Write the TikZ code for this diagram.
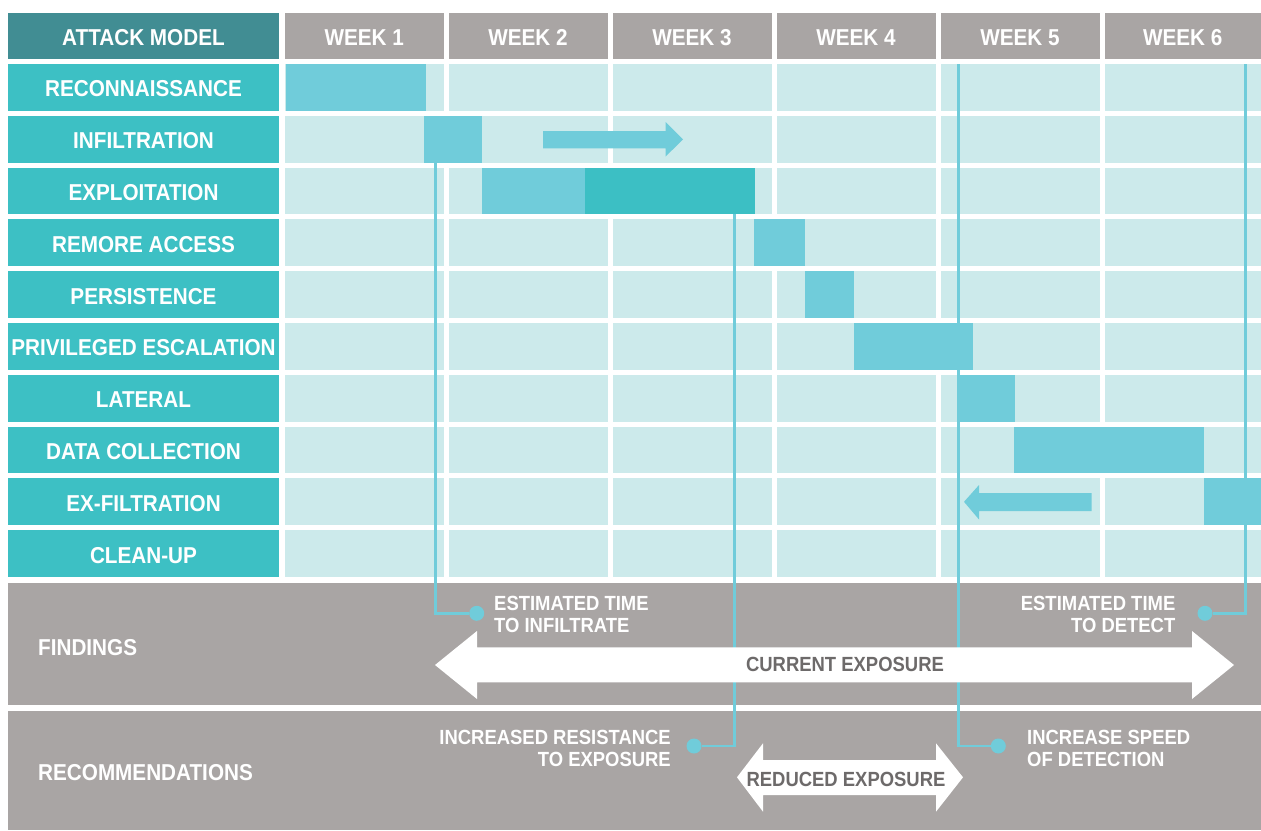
\documentclass[tikz,border=0pt]{standalone}
\usepackage{fontspec}
\setmainfont[FakeStretch=0.9]{Liberation Sans}
\definecolor{headerteal}{HTML}{418D93}
\definecolor{labelteal}{HTML}{3DC0C4}
\definecolor{weekgray}{HTML}{A9A5A4}
\definecolor{cellcol}{HTML}{CCEAEB}
\definecolor{barcol}{HTML}{70CCDA}
\definecolor{bardark}{HTML}{3CBFC4}
\definecolor{panelcol}{HTML}{A9A5A4}
\definecolor{darktext}{HTML}{6D6A6A}
\tikzset{
  box/.style={inner sep=0pt, outer sep=0pt, anchor=north west, minimum height=46.8pt, text=white,
    text height=19pt, text depth=0pt, font=\fontsize{23}{24}\selectfont\bfseries},
  hdrbox/.style={box, fill=headerteal, minimum width=271pt, minimum height=46pt},
  weekbox/.style={box, fill=weekgray, minimum height=46pt},
  lblbox/.style={box, fill=labelteal, minimum width=271pt},
  barbox/.style={box, fill=barcol},
  cell/.style={fill=cellcol},
  conn/.style={draw=barcol, line width=2.6pt},
  dotnode/.style={circle, fill=barcol, minimum size=15pt, inner sep=0pt},
  wtxt/.style={inner sep=0pt, text=white, font=\fontsize{20.5}{21.5}\selectfont\bfseries},
  ptxt/.style={inner sep=0pt, text=white, font=\fontsize{23}{24}\selectfont\bfseries},
  dtxt/.style={inner sep=0pt, text=darktext, font=\fontsize{20.5}{21.5}\selectfont\bfseries},
  bigarrow/.style={fill=white},
  gridarrow/.style={fill=barcol}
}
\begin{document}
\begin{tikzpicture}[x=1pt,y=-1pt]
\useasboundingbox (0,0) rectangle (1261,830);
\fill[white] (0,0) rectangle (1261,830);

% header
\node[hdrbox] (hdr) at (8,13) {ATTACK MODEL};
\foreach \x/\w/\t/\n in {285/158.5/WEEK 1/w1, 448.5/159/WEEK 2/w2, 612.5/159/WEEK 3/w3,
    776.5/159/WEEK 4/w4, 940.5/159/WEEK 5/w5, 1104.5/156.5/WEEK 6/w6}
  \node[weekbox, minimum width=\w pt] (\n) at (\x,13) {\t};

% row labels
\foreach \i/\t/\n in {0/RECONNAISSANCE/l0, 1/INFILTRATION/l1, 2/EXPLOITATION/l2,
    3/REMORE ACCESS/l3, 4/PERSISTENCE/l4, 5/PRIVILEGED ESCALATION/l5, 6/LATERAL/l6,
    7/DATA COLLECTION/l7, 8/EX-FILTRATION/l8, 9/CLEAN-UP/l9}
  \node[lblbox] (\n) at (8,{64+51.8*\i}) {\t};

% grid cells
\foreach \i in {0,...,9}
  \foreach \x/\w in {285/158.5, 448.5/159, 612.5/159, 776.5/159, 940.5/159, 1104.5/156.5}
    \fill[cell] (\x,{64+51.8*\i}) rectangle ++(\w,46.8);

% bottom panels
\fill[panelcol] (8,582.7) rectangle (1261,705);
\fill[panelcol] (8,710.7) rectangle (1261,830);

% connector start points and dots
\coordinate (aTop) at (435.7,162.6);
\coordinate (bTop) at (734.3,214.4);
\coordinate (cTop) at (958.3,64);
\coordinate (dTop) at (1245.5,64);
\node[dotnode] (dA) at (476.7,613.3) {};
\node[dotnode] (dB) at (694,746) {};
\node[dotnode] (dC) at (998.3,746) {};
\node[dotnode] (dD) at (1205,613.3) {};
\draw[conn] (aTop) |- (dA);
\draw[conn] (bTop) |- (dB);
\draw[conn] (cTop) |- (dC);
\draw[conn] (dTop) |- (dD);

% bars
\node[barbox, minimum width=140pt] (recon) at (286,64) {};
\node[barbox, minimum width=58pt] (infil) at (424,115.8) {};
\node[barbox, minimum width=103pt] (exploitA) at (482,167.6) {};
\node[barbox, minimum width=170pt, fill=bardark] (exploitB) at (585,167.6) {};
\node[barbox, minimum width=51pt] (remote) at (754,219.4) {};
\node[barbox, minimum width=49pt] (persist) at (805,271.2) {};
\node[barbox, minimum width=119pt] (priv) at (854,323) {};
\node[barbox, minimum width=58pt] (lateral) at (957,374.8) {};
\node[barbox, minimum width=190pt] (datacoll) at (1014,426.6) {};
\node[barbox, minimum width=57pt] (exfil) at (1204,478.4) {};

% grid arrows
\fill[gridarrow] (543,131) -- (665.5,131) -- (665.5,122) -- (683,139.3) -- (665.5,156.7)
  -- (665.5,148.3) -- (543,148.3) -- cycle;
\fill[gridarrow] (964,501.8) -- (979,485) -- (979,493) -- (1091.5,493) -- (1091.5,511)
  -- (979,511) -- (979,519.5) -- cycle;

% big arrows
\fill[bigarrow] (435,665) -- (477,631) -- (477,647.3) -- (1192,647.3) -- (1192,631)
  -- (1234,665) -- (1192,699) -- (1192,682.3) -- (477,682.3) -- (477,699) -- cycle;
\fill[bigarrow] (737,777.3) -- (763,743.3) -- (763,760) -- (936,760) -- (936,743.3)
  -- (963,777.3) -- (936,811.7) -- (936,795) -- (763,795) -- (763,811.7) -- cycle;

% texts
\node[ptxt, anchor=west] (findings) at (38,648) {FINDINGS};
\node[ptxt, anchor=west] (recs) at (38,773) {RECOMMENDATIONS};
\node[dtxt] (current) at (845,664.3) {CURRENT EXPOSURE};
\node[dtxt] (reduced) at (846,779) {REDUCED EXPOSURE};
\node[wtxt, anchor=west, align=left] (tInf) at (494,614.4) {ESTIMATED TIME\\TO INFILTRATE};
\node[wtxt, anchor=east, align=right] (tDet) at (1175.5,614.4) {ESTIMATED TIME\\TO DETECT};
\node[wtxt, anchor=east, align=right] (tRes) at (671,748.3) {INCREASED RESISTANCE\\TO EXPOSURE};
\node[wtxt, anchor=west, align=left] (tSpd) at (1027,748.3) {INCREASE SPEED\\OF DETECTION};
\end{tikzpicture}
\end{document}
